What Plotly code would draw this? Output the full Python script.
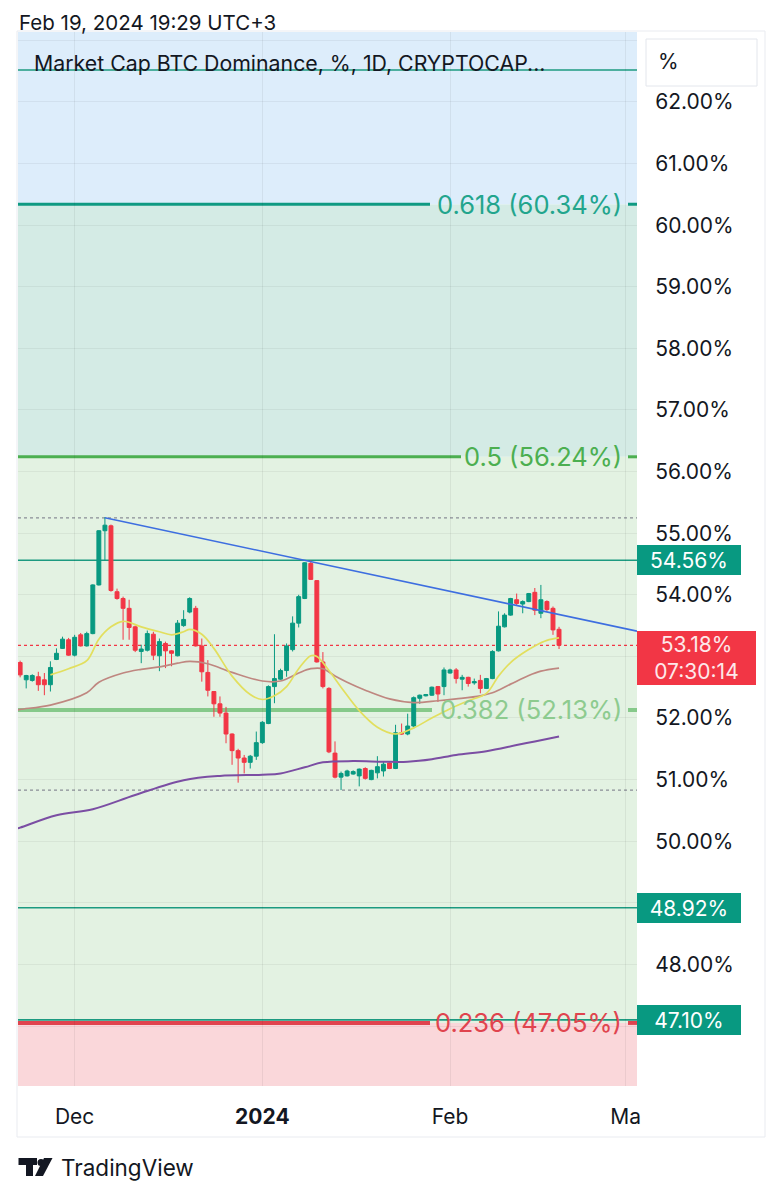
import plotly.graph_objects as go
import pandas as pd

# ---------------- data ----------------
start_date = "2023-11-22"
opens = [52.90, 52.62, 52.61, 52.67, 52.62, 52.54, 52.95, 53.13, 53.27, 53.02,
         53.35, 53.17, 53.37, 54.16, 55.04, 55.12, 54.05, 53.94, 53.78, 53.48,
         53.08, 53.10, 53.36, 53.01, 53.21, 53.09, 53.01, 53.50, 53.72, 53.78,
         53.17, 52.74, 52.43, 52.23, 52.08, 51.74, 51.47, 51.35, 51.28, 51.38,
         51.60, 51.91, 52.51, 52.63, 52.77, 53.11, 53.54, 53.94, 54.51, 54.23,
         52.91, 52.48, 51.43, 51.04, 51.06, 51.09, 51.06, 51.18, 51.00, 51.11,
         51.14, 51.27, 51.18, 51.76, 51.74, 51.87, 52.32, 52.36, 52.37, 52.51,
         52.51, 52.73, 52.78, 52.63, 52.66, 52.57, 52.61, 52.48, 52.64, 53.09,
         53.48, 53.67, 53.92, 53.85, 53.89, 54.04, 53.70, 53.89, 53.78, 53.44]
highs = [52.93, 52.70, 52.71, 52.75, 52.73, 52.92, 53.13, 53.32, 53.30, 53.35,
         53.38, 53.40, 54.17, 55.05, 55.26, 55.14, 54.10, 53.97, 53.92, 53.50,
         53.19, 53.42, 53.40, 53.29, 53.24, 53.10, 53.59, 53.75, 53.96, 53.82,
         53.29, 52.94, 52.43, 52.35, 52.18, 51.75, 51.50, 51.40, 51.40, 51.78,
         51.95, 52.53, 53.36, 52.80, 53.21, 53.65, 54.00, 54.53, 54.56, 54.24,
         53.07, 52.50, 51.62, 51.13, 51.16, 51.15, 51.18, 51.20, 51.16, 51.38,
         51.29, 51.28, 51.89, 51.91, 52.07, 52.35, 52.38, 52.39, 52.51, 52.52,
         52.82, 52.80, 52.81, 52.70, 52.67, 52.64, 52.70, 52.65, 53.10, 53.73,
         53.70, 53.95, 54.02, 53.91, 54.03, 54.11, 54.16, 53.91, 53.81, 53.48]
lows = [52.66, 52.48, 52.59, 52.44, 52.37, 52.43, 52.94, 53.12, 53.01, 53.00,
        53.16, 53.16, 53.36, 54.15, 54.56, 54.05, 53.92, 53.27, 53.27, 53.07,
        52.89, 53.08, 52.94, 52.76, 52.81, 52.84, 53.00, 53.48, 53.70, 53.16,
        52.59, 52.35, 52.02, 52.02, 51.59, 51.24, 50.95, 51.10, 51.18, 51.32,
        51.58, 51.90, 52.24, 52.62, 52.67, 53.08, 53.47, 53.93, 54.24, 52.90,
        52.48, 51.43, 51.02, 50.83, 51.05, 51.08, 50.89, 51.00, 50.99, 51.02,
        51.05, 51.17, 51.17, 51.73, 51.72, 51.83, 52.23, 52.35, 52.36, 52.26,
        52.37, 52.72, 52.56, 52.45, 52.51, 52.54, 52.40, 52.47, 52.63, 53.08,
        53.47, 53.66, 53.83, 53.70, 53.88, 53.67, 53.62, 53.73, 53.35, 53.12]
closes = [52.70, 52.69, 52.69, 52.54, 52.54, 52.82, 53.05, 53.28, 53.02, 53.31,
          53.17, 53.37, 54.16, 55.04, 55.13, 54.07, 53.94, 53.78, 53.47, 53.10,
          53.12, 53.37, 53.02, 53.24, 53.09, 53.05, 53.54, 53.60, 53.94, 53.17,
          52.75, 52.45, 52.23, 52.08, 51.74, 51.47, 51.35, 51.28, 51.38, 51.60,
          51.93, 52.51, 52.64, 52.77, 53.17, 53.54, 53.97, 54.52, 54.25, 52.91,
          52.51, 51.45, 51.04, 51.10, 51.14, 51.13, 51.17, 51.02, 51.15, 51.21,
          51.25, 51.18, 51.76, 51.74, 51.87, 52.33, 52.37, 52.38, 52.50, 52.39,
          52.78, 52.78, 52.64, 52.66, 52.56, 52.59, 52.48, 52.64, 53.08, 53.49,
          53.67, 53.94, 53.86, 53.89, 54.02, 53.75, 53.92, 53.76, 53.43, 53.18]

ma_fast_dates = ["2023-11-27", "2023-11-30", "2023-12-03", "2023-12-05", "2023-12-07",
                 "2023-12-09", "2023-12-12", "2023-12-15", "2023-12-17", "2023-12-19",
                 "2023-12-20", "2023-12-22", "2023-12-24", "2023-12-27", "2023-12-30",
                 "2024-01-01", "2024-01-03", "2024-01-05", "2024-01-07", "2024-01-09",
                 "2024-01-10", "2024-01-12", "2024-01-14", "2024-01-17", "2024-01-20",
                 "2024-01-23", "2024-01-26", "2024-01-29", "2024-02-01", "2024-02-04",
                 "2024-02-07", "2024-02-09", "2024-02-11", "2024-02-13", "2024-02-15",
                 "2024-02-17", "2024-02-19"]
ma_fast_vals = [52.70, 52.80, 52.93, 53.28, 53.48, 53.57, 53.48, 53.40, 53.35, 53.40,
                53.44, 53.36, 53.13, 52.68, 52.38, 52.30, 52.36, 52.51, 52.80, 53.01,
                53.00, 52.77, 52.50, 52.12, 51.85, 51.74, 51.84, 52.00, 52.15, 52.28,
                52.40, 52.68, 52.90, 53.05, 53.17, 53.26, 53.30]

ma_mid_dates = ["2023-11-21", "2023-11-22", "2023-11-27", "2023-12-03", "2023-12-05",
                "2023-12-09", "2023-12-12", "2023-12-15", "2023-12-18", "2023-12-20",
                "2023-12-23", "2023-12-27", "2024-01-01", "2024-01-04", "2024-01-07",
                "2024-01-09", "2024-01-11", "2024-01-13", "2024-01-15", "2024-01-18",
                "2024-01-22", "2024-01-26", "2024-01-30", "2024-02-02", "2024-02-06",
                "2024-02-08", "2024-02-11", "2024-02-14", "2024-02-16", "2024-02-19"]
ma_mid_vals = [52.12, 52.14, 52.21, 52.41, 52.58, 52.73, 52.79, 52.83, 52.89, 52.92,
               52.88, 52.74, 52.60, 52.60, 52.73, 52.80, 52.80, 52.68, 52.58, 52.45,
               52.31, 52.25, 52.28, 52.31, 52.36, 52.41, 52.55, 52.69, 52.76, 52.81]

ma_slow_dates = ["2023-11-21", "2023-11-22", "2023-11-28", "2023-12-04", "2023-12-11",
                 "2023-12-19", "2023-12-25", "2024-01-01", "2024-01-04", "2024-01-08",
                 "2024-01-11", "2024-01-16", "2024-01-21", "2024-01-25", "2024-01-29",
                 "2024-02-02", "2024-02-07", "2024-02-12", "2024-02-15", "2024-02-19"]
ma_slow_vals = [50.19, 50.22, 50.42, 50.52, 50.75, 50.99, 51.06, 51.08, 51.10, 51.20,
                51.28, 51.30, 51.29, 51.29, 51.33, 51.40, 51.46, 51.56, 51.62, 51.70]

trend_dates = ["2023-12-06", "2024-03-02 21:00"]
trend_vals = [55.25, 53.41]

fib_ratios = ["0.236", "0.382", "0.5", "0.618"]
fib_prices = [47.05, 52.13, 56.24, 60.34]

level_prices = [62.52, 54.56, 48.92, 47.10]
level_tags = ["", "54.56%", "48.92%", "47.10%"]

high_mark = 55.25
low_mark = 50.83
last_price = 53.18
countdown = "07:30:14"

x_ticks = ["2023-12-01", "2024-01-01", "2024-02-01", "2024-03-01"]
x_ticktext = ["Dec", "<b>2024</b>", "Feb", "Ma"]
y_ticks = [47, 48, 49, 50, 51, 52, 53, 54, 55, 56, 57, 58, 59, 60, 61, 62, 63]
y_ticktext = ["", "48.00%", "", "50.00%", "51.00%", "52.00%", "", "54.00%", "55.00%",
              "56.00%", "57.00%", "58.00%", "59.00%", "60.00%", "61.00%", "62.00%", ""]

x_range = ["2023-11-21 15:30", "2024-03-02 21:00"]
y_range = [46.026, 63.136]

# ---------------- styling / layout geometry ----------------
# reference pixel geometry (page coordinates); the page body has an 8px margin
OFF = 8
W, H = 780 - OFF, 1200 - 2 * OFF
L, R, T, B = 18, 637, 32, 1086
PW, PH = R - L, B - T
FONT = "Inter"
TXT = "#131722"
GREEN = "#089981"
RED = "#f23645"


def px(xp):
    return (xp - L) / PW


def py(yp):
    return (B - yp) / PH


dates = pd.date_range(start_date, periods=len(opens), freq="D")

fig = go.Figure()

fig.add_trace(go.Candlestick(
    x=dates, open=opens, high=highs, low=lows, close=closes,
    increasing=dict(line=dict(color=GREEN, width=1), fillcolor=GREEN),
    decreasing=dict(line=dict(color=RED, width=1), fillcolor=RED),
    whiskerwidth=0, showlegend=False, hoverinfo="skip"))

fig.add_trace(go.Scatter(x=ma_slow_dates, y=ma_slow_vals, mode="lines",
                         line=dict(color="#7b4ea3", width=2, shape="spline"),
                         showlegend=False, hoverinfo="skip"))
fig.add_trace(go.Scatter(x=ma_mid_dates, y=ma_mid_vals, mode="lines",
                         line=dict(color="#bf8780", width=1.7, shape="spline"),
                         showlegend=False, hoverinfo="skip"))
fig.add_trace(go.Scatter(x=ma_fast_dates, y=ma_fast_vals, mode="lines",
                         line=dict(color="#e2df5e", width=1.7, shape="spline"),
                         showlegend=False, hoverinfo="skip"))
fig.add_trace(go.Scatter(x=trend_dates, y=trend_vals, mode="lines",
                         line=dict(color="#3d6ee0", width=1.6),
                         showlegend=False, hoverinfo="skip"))

shapes = []
# zone fills
zone_bounds = [y_range[0]] + fib_prices + [y_range[1]]
zone_colors = ["#fad7da", "#e3f2e2", "#e3f2e2", "#d4ebe5", "#ddedfb"]
for i in range(len(zone_bounds) - 1):
    shapes.append(dict(type="rect", xref="paper", yref="y", x0=0, x1=1,
                       y0=zone_bounds[i], y1=zone_bounds[i + 1],
                       fillcolor=zone_colors[i], line=dict(width=0), layer="below"))

# fib lines (broken where the label sits)
fib_line_colors = ["#e0444e", "#86c98a", "#4caf50", "#0f9a82"]
fib_line_widths = [4, 4, 3, 3]
fib_label_colors = ["#e0444e", "#8dcb8f", "#4caf50", "#22a58d"]
fib_line_end = [430, 432, 461, 430]
for i, p in enumerate(fib_prices):
    for (a, b) in [(L, fib_line_end[i]), (628, R)]:
        shapes.append(dict(type="line", xref="paper", yref="y", x0=px(a), x1=px(b),
                           y0=p, y1=p, line=dict(color=fib_line_colors[i],
                                                 width=fib_line_widths[i]),
                           layer="between"))

# horizontal teal lines
for p in level_prices:
    shapes.append(dict(type="line", xref="paper", yref="y", x0=0, x1=1, y0=p, y1=p,
                       line=dict(color="#1c9a80", width=1.6), layer="between"))

# dotted lines
for p, c in [(high_mark, "#8a8d96"), (low_mark, "#8a8d96"), (last_price, RED)]:
    shapes.append(dict(type="line", xref="paper", yref="y", x0=0, x1=1, y0=p, y1=p,
                       line=dict(color=c, width=1.2, dash="dot"), layer="between"))

# container frame and "%" box
shapes.append(dict(type="rect", xref="paper", yref="paper", x0=px(17), x1=px(765),
                   y0=py(1137), y1=py(31), line=dict(color="#e9ebf0", width=1),
                   fillcolor="rgba(0,0,0,0)", layer="above"))
shapes.append(dict(type="rect", xref="paper", yref="paper", x0=px(646), x1=px(757),
                   y0=py(86), y1=py(39), line=dict(color="#e3e6ec", width=1),
                   fillcolor="white", layer="above"))

# TradingView logo
shapes.append(dict(type="rect", xref="paper", yref="paper", x0=px(18.5), x1=px(37),
                   y0=py(1165), y1=py(1158), fillcolor=TXT, line=dict(width=0)))
shapes.append(dict(type="rect", xref="paper", yref="paper", x0=px(26), x1=px(33),
                   y0=py(1176), y1=py(1158), fillcolor=TXT, line=dict(width=0)))
shapes.append(dict(type="circle", xref="paper", yref="paper", x0=px(37.5), x1=px(44.5),
                   y0=py(1166), y1=py(1159), fillcolor=TXT, line=dict(width=0)))
shapes.append(dict(type="path", xref="paper", yref="paper",
                   path=(f"M {px(44)},{py(1158)} L {px(52.5)},{py(1158)} "
                         f"L {px(43)},{py(1176)} L {px(35)},{py(1176)} Z"),
                   fillcolor=TXT, line=dict(width=0)))

annotations = []
# fib labels
for i, p in enumerate(fib_prices):
    annotations.append(dict(xref="paper", yref="y", x=px(624), y=p, xanchor="right",
                            yanchor="middle", showarrow=False,
                            text=f"{fib_ratios[i]} ({p:.2f}%)",
                            font=dict(family=FONT, size=25.5, color=fib_label_colors[i])))

# right-side price tags
for p, t in zip(level_prices, level_tags):
    if t:
        annotations.append(dict(xref="paper", yref="y", x=1.0, y=p, xanchor="left",
                                yanchor="middle", showarrow=False, text=t,
                                bgcolor=GREEN, bordercolor=GREEN, borderwidth=1,
                                borderpad=4, width=94, height=20, align="center",
                                font=dict(family=FONT, size=21, color="white")))
annotations.append(dict(xref="paper", yref="y", x=1.0, y=last_price, xanchor="left",
                        yanchor="middle", yshift=-13, showarrow=False,
                        text=f"{last_price:.2f}%<br>{countdown}",
                        bgcolor=RED, bordercolor=RED, borderwidth=1, borderpad=4,
                        width=109, height=44, align="center",
                        font=dict(family=FONT, size=21, color="#fde8ea")))

# texts
annotations.append(dict(xref="paper", yref="paper", x=px(17), y=py(8), xanchor="left",
                        yanchor="top", showarrow=False,
                        text="Feb 19, 2024 19:29 UTC+3",
                        font=dict(family=FONT, size=20.5, color=TXT)))
annotations.append(dict(xref="paper", yref="paper", x=px(32), y=py(63), xanchor="left",
                        yanchor="middle", showarrow=False,
                        text="Market Cap BTC Dominance, %, 1D, CRYPTOCAP...",
                        font=dict(family=FONT, size=21.3, color=TXT)))
annotations.append(dict(xref="paper", yref="paper", x=px(668), y=py(62), xanchor="center",
                        yanchor="middle", showarrow=False, text="%",
                        font=dict(family=FONT, size=21, color=TXT)))
annotations.append(dict(xref="paper", yref="paper", x=px(59), y=py(1167), xanchor="left",
                        yanchor="middle", showarrow=False, text="TradingView",
                        font=dict(family=FONT, size=22.5, color=TXT)))

fig.update_layout(
    width=W, height=H, autosize=False,
    margin=dict(l=L - OFF, r=W - (R - OFF), t=T - OFF, b=H - (B - OFF), pad=0),
    paper_bgcolor="white", plot_bgcolor="white",
    font=dict(family=FONT, color=TXT),
    shapes=shapes, annotations=annotations,
    showlegend=False, hovermode=False, boxgap=0.08,
    xaxis=dict(type="date", range=x_range, rangeslider=dict(visible=False),
               tickvals=x_ticks, ticktext=x_ticktext, tickfont=dict(size=21, color=TXT),
               ticks="outside", ticklen=12, tickcolor="rgba(0,0,0,0)",
               showgrid=True, gridcolor="rgba(0,0,0,0.06)", gridwidth=1,
               zeroline=False, showline=False, fixedrange=True),
    yaxis=dict(side="right", range=y_range, tickvals=y_ticks, ticktext=y_ticktext,
               tickfont=dict(size=21, color=TXT), ticks="outside", ticklen=13,
               tickcolor="rgba(0,0,0,0)", showgrid=True,
               gridcolor="rgba(0,0,0,0.05)", gridwidth=1,
               zeroline=False, showline=False, fixedrange=True),
)

fig.write_html("out.html")
